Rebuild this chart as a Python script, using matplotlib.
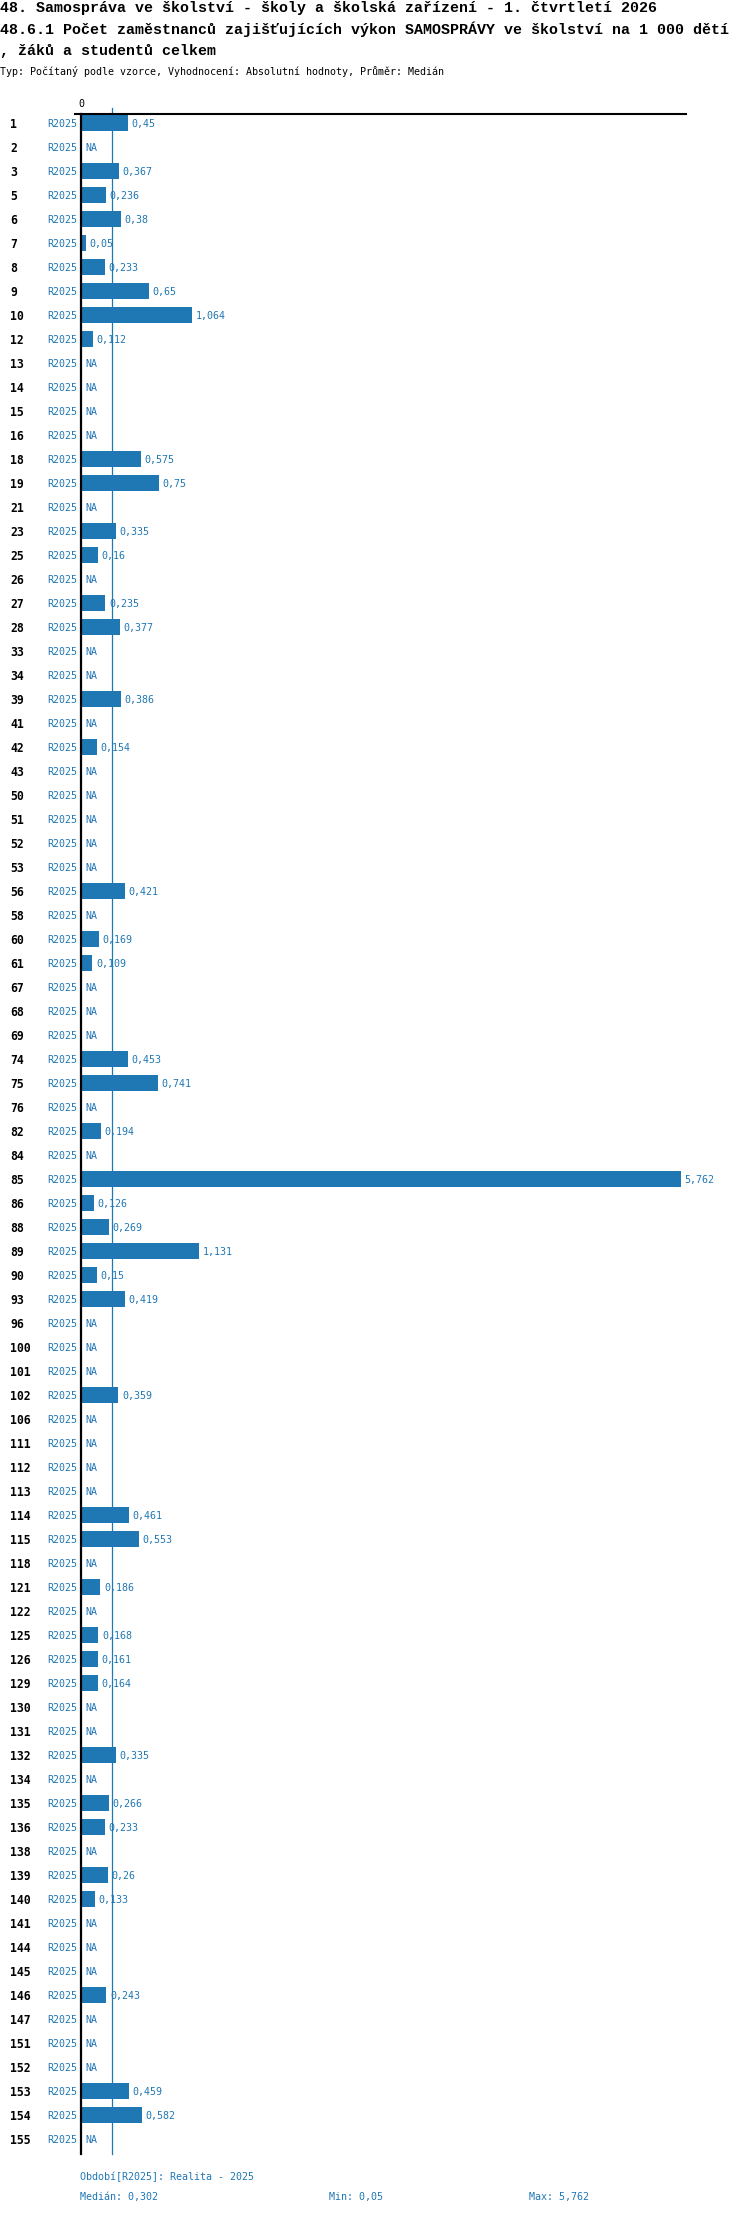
import matplotlib
matplotlib.use("Agg")
import matplotlib.pyplot as plt
from matplotlib.lines import Line2D
from matplotlib.transforms import blended_transform_factory

# ---------------- DATA ----------------

codes = [1, 2, 3, 5, 6, 7, 8, 9, 10, 12, 13, 14, 15, 16, 18, 19, 21, 23, 25, 26,
         27, 28, 33, 34, 39, 41, 42, 43, 50, 51, 52, 53, 56, 58, 60, 61, 67, 68, 69, 74,
         75, 76, 82, 84, 85, 86, 88, 89, 90, 93, 96, 100, 101, 102, 106, 111, 112, 113, 114, 115,
         118, 121, 122, 125, 126, 129, 130, 131, 132, 134, 135, 136, 138, 139, 140, 141, 144, 145, 146, 147,
         151, 152, 153, 154, 155]

values = [0.45, None, 0.367, 0.236, 0.38, 0.05, 0.233, 0.65, 1.064, 0.112,
          None, None, None, None, 0.575, 0.75, None, 0.335, 0.16, None,
          0.235, 0.377, None, None, 0.386, None, 0.154, None, None, None,
          None, None, 0.421, None, 0.169, 0.109, None, None, None, 0.453,
          0.741, None, 0.194, None, 5.762, 0.126, 0.269, 1.131, 0.15, 0.419,
          None, None, None, 0.359, None, None, None, None, 0.461, 0.553,
          None, 0.186, None, 0.168, 0.161, 0.164, None, None, 0.335, None,
          0.266, 0.233, None, 0.26, 0.133, None, None, None, 0.243, None,
          None, None, 0.459, 0.582, None]

period = "R2025"
median = 0.302
vmin = 0.05
vmax = 5.762

title1 = "48. Samospráva ve školství - školy a školská zařízení - 1. čtvrtletí 2026"
title2 = "48.6.1 Počet zaměstnanců zajišťujících výkon SAMOSPRÁVY ve školství na 1 000 dětí"
title3 = ", žáků a studentů celkem"
subtitle = "Typ: Počítaný podle vzorce, Vyhodnocení: Absolutní hodnoty, Průměr: Medián"
legend_text = "Období[R2025]: Realita - 2025"


def fmt(v):
    return f"{v:g}".replace(".", ",")


# ---------------- FIGURE ----------------

W, H = 750, 2214
BLUE = "#1f77b4"
MONO = "DejaVu Sans Mono"
TITLE_FONT = "Liberation Mono"


def fx(px):
    return px / W


def fy(py):
    return 1 - py / H


fig = plt.figure(figsize=(W / 100, H / 100), dpi=100)

# plot area: x 81..686 px, y 114..2154 px
ax = fig.add_axes([fx(81), fy(2154), fx(686) - fx(81), fy(114) - fy(2154)])
n = len(codes)
ax.set_xlim(0, 5.812)
ax.set_ylim(n, 0)
ax.axis("off")

rows = [i + 0.375 for i in range(n)]

# median line
ax.plot([median, median], [n, -0.25], color=BLUE, lw=0.9, zorder=1, clip_on=False)

# bars
bar_vals = [v if v is not None else 0 for v in values]
ax.barh(rows, bar_vals, height=0.667, color=BLUE, zorder=2)

# axis lines
ax.plot([0, 0], [n, 0], color="black", lw=1.6, zorder=3, clip_on=False)
fig.add_artist(Line2D([fx(75), fx(686)], [fy(114), fy(114)], color="black", lw=1.5))
fig.text(fx(81), fy(107), "0", ha="center", va="baseline", fontsize=7.2,
         family=MONO, color="black")

# row labels and values
tr = blended_transform_factory(fig.transFigure, ax.transData)
for y, code, v in zip(rows, codes, values):
    ax.text(fx(10), y, str(code), transform=tr, ha="left", va="center_baseline",
            fontsize=8.3, family=MONO, fontweight="bold", color="black")
    ax.text(fx(77), y, period, transform=tr, ha="right", va="center_baseline",
            fontsize=7.2, family=MONO, color=BLUE)
    if v is None:
        ax.annotate("NA", (0, y), xytext=(3, 0), textcoords="offset points",
                    ha="left", va="center_baseline", fontsize=7.2, family=MONO, color=BLUE)
    else:
        ax.annotate(fmt(v), (v, y), xytext=(2.6, 0), textcoords="offset points",
                    ha="left", va="center_baseline", fontsize=7.2, family=MONO, color=BLUE)

# ---------------- TITLES ----------------

fig.text(0, fy(12), title1, ha="left", va="baseline", fontsize=10.8,
         family=TITLE_FONT, fontweight="bold")
fig.text(0, fy(34), title2, ha="left", va="baseline", fontsize=10.8,
         family=TITLE_FONT, fontweight="bold")
fig.text(0, fy(55.5), title3, ha="left", va="baseline", fontsize=10.8,
         family=TITLE_FONT, fontweight="bold")
fig.text(0, fy(75), subtitle, ha="left", va="baseline", fontsize=7.2, family=MONO)

# ---------------- FOOTER ----------------

fig.text(fx(80), fy(2180), legend_text, ha="left", va="baseline", fontsize=7.2,
         family=MONO, color=BLUE)
fig.text(fx(80), fy(2200), "Medián: " + fmt(median), ha="left", va="baseline",
         fontsize=7.2, family=MONO, color=BLUE)
fig.text(fx(329), fy(2200), "Min: " + fmt(vmin), ha="left", va="baseline",
         fontsize=7.2, family=MONO, color=BLUE)
fig.text(fx(529), fy(2200), "Max: " + fmt(vmax), ha="left", va="baseline",
         fontsize=7.2, family=MONO, color=BLUE)

fig.savefig("out.png", dpi=100, facecolor="white")
